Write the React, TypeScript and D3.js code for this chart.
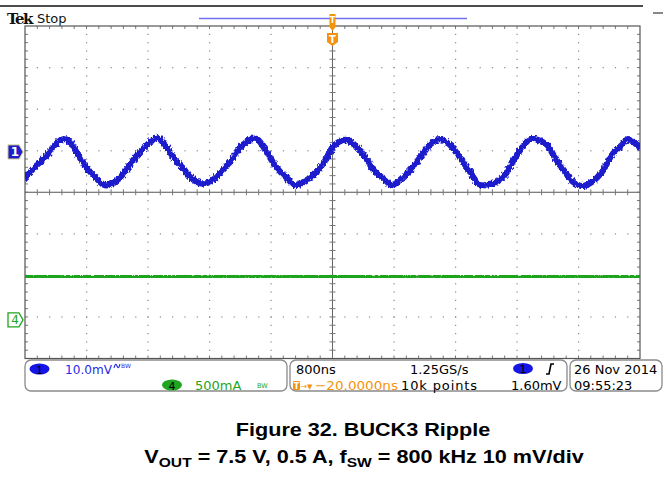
import React from 'react';
import * as d3 from 'd3';

// ---- data ----
const timeNs = [
  -4000, -3870, -3740, -3610, -3506, -3415, -3311, -3194, -3090, -2960, -2829, -2699, -2569, -2439,
  -2283, -2179, -2049, -1945, -1854, -1724, -1594, -1463, -1333, -1203, -1073, -982, -852, -722,
  -592, -488, -332, -202, -72, 33, 163, 293, 423, 553, 683, 774, 904, 1034, 1164, 1294, 1398, 1528,
  1659, 1789, 1919, 2049, 2114, 2244, 2374, 2465, 2569, 2673, 2790, 2894, 3024, 3128, 3246, 3376,
  3506, 3636, 3766, 3844, 3961, 4000,
];
const ch1mV = [
  -6.3, -3.6, -1.4, 1.7, 3.1, 2.4, -0.7, -3.9, -6.0, -8.0, -7.2, -4.8, -1.4, 1.2,
  3.4, 1.7, -1.9, -3.9, -6.0, -7.5, -7.2, -5.1, -2.4, 1.0, 2.9, 3.1, -0.2, -3.9,
  -6.3, -8.0, -6.7, -4.8, -1.4, 1.7, 2.9, 1.7, -1.2, -4.8, -6.7, -8.0, -6.3, -3.9, -0.7, 2.2, 3.1, 1.7,
  -1.4, -4.8, -8.0, -7.7, -7.5, -5.5, -1.4, 1.0, 3.1, 2.9, 1.7, -1.4, -4.8, -7.2, -8.2, -7.2,
  -4.8, -0.7, 1.7, 3.1, 1.7, 1.0,
];
const ch4Time = [-4000, -3000, -2000, -1000, 0, 1000, 2000, 3000, 4000];
const ch4mA = [520, 515, 518, 522, 516, 520, 517, 519, 518];

const hDivs = 10;
const vDivs = 8;
const ch1OffsetDiv = 3.03;
const ch4OffsetDiv = 7.07;

const headerBrand = 'Tek';
const headerState = 'Stop';
const ch1Scale = '10.0mV';
const ch4Scale = '500mA';
const timeScale = '800ns';
const sampleRate = '1.25GS/s';
const triggerPos = '−20.0000ns';
const recordLength = '10k points';
const triggerLevel = '1.60mV';
const dateText = '26 Nov 2014';
const timeText = '09:55:23';
const captionTitle = 'Figure 32. BUCK3 Ripple';

const W = 669;
const H = 482;
const BLUE = '#1e1ecc';
const GREEN = '#1fa51f';
const ORANGE = '#f5930c';
const scopeFont = 'DejaVu Sans, sans-serif';

export default function App() {
  const left = 25, right = 640, top = 26, bottom = 358.5;
  const gx = d3.scaleLinear().domain([0, hDivs]).range([left, right]);
  const gy = d3.scaleLinear().domain([0, vDivs]).range([top, bottom]);
  const xT = d3.scaleLinear().domain([-4000, 4000]).range([left, right]);
  const y1 = d3.scaleLinear().domain([-10, 10]).range([gy(ch1OffsetDiv + 1), gy(ch1OffsetDiv - 1)]);
  const y4 = d3.scaleLinear().domain([-500, 500]).range([gy(ch4OffsetDiv + 1), gy(ch4OffsetDiv - 1)]);

  const line1 = d3.line<number>().x((_, i) => xT(timeNs[i])).y((d) => y1(d)).curve(d3.curveCatmullRom.alpha(0.5));
  const line4 = d3.line<number>().x((_, i) => xT(ch4Time[i])).y((d) => y4(d)).curve(d3.curveCatmullRom.alpha(0.5));

  const dots: any[] = [];
  for (let i = 1; i < hDivs; i++) {
    if (i === hDivs / 2) continue;
    for (let j = 1; j < vDivs * 5; j++) {
      dots.push(<rect key={`v${i}-${j}`} x={gx(i) - 0.5} y={gy(j / 5) - 0.5} width={1.2} height={1.2} fill="#8a8a8a" />);
    }
  }
  for (let k = 1; k < vDivs; k++) {
    if (k === vDivs / 2) continue;
    for (let j = 1; j < hDivs * 5; j++) {
      dots.push(<rect key={`h${k}-${j}`} x={gx(j / 5) - 0.5} y={gy(k) - 0.5} width={1.2} height={1.2} fill="#8a8a8a" />);
    }
  }
  const ticks: any[] = [];
  for (let j = 1; j < hDivs * 5; j++) {
    const x = gx(j / 5);
    ticks.push(<line key={`tt${j}`} x1={x} x2={x} y1={top} y2={top + 3} stroke="#777" />);
    ticks.push(<line key={`tb${j}`} x1={x} x2={x} y1={bottom - 3} y2={bottom} stroke="#777" />);
    ticks.push(<line key={`tc${j}`} x1={x} x2={x} y1={gy(4) - 3} y2={gy(4) + 3} stroke="#777" />);
  }
  for (let j = 1; j < vDivs * 5; j++) {
    const y = gy(j / 5);
    ticks.push(<line key={`tl${j}`} x1={left} x2={left + 3} y1={y} y2={y} stroke="#777" />);
    ticks.push(<line key={`tr${j}`} x1={right - 3} x2={right} y1={y} y2={y} stroke="#777" />);
    ticks.push(<line key={`tm${j}`} x1={gx(5) - 3} x2={gx(5) + 3} y1={y} y2={y} stroke="#777" />);
  }

  const m1y = y1(0);
  const m4y = y4(0);
  const marker = (y: number) => `M8,${y - 7} L19,${y - 7} L23,${y} L19,${y + 7} L8,${y + 7} Z`;
  const tx = gx(5);

  return (
    <svg width={W} height={H} style={{ position: 'absolute', left: 0, top: 0, background: '#fff' }}>
      <defs>
        <clipPath id="plotclip"><rect x={left} y={top} width={right - left} height={bottom - top} /></clipPath>
        <filter id="noisy" x="-5%" y="-30%" width="110%" height="160%">
          <feTurbulence type="fractalNoise" baseFrequency="0.6 0.35" numOctaves={1} seed={4} result="t" />
          <feDisplacementMap in="SourceGraphic" in2="t" scale={5.5} xChannelSelector="R" yChannelSelector="G" />
        </filter>
        <filter id="noisy2" x="-5%" y="-100%" width="110%" height="300%">
          <feTurbulence type="fractalNoise" baseFrequency="0.6 0.4" numOctaves={1} seed={9} result="t" />
          <feDisplacementMap in="SourceGraphic" in2="t" scale={3.5} xChannelSelector="R" yChannelSelector="G" />
        </filter>
      </defs>
      <rect width={W} height={H} fill="#fff" />
      {/* header */}
      <line x1={0} x2={643} y1={6} y2={6} stroke="#111" strokeWidth={1.5} />
      <line x1={653} x2={663} y1={13} y2={13} stroke="#111" strokeWidth={1} />
      <text x={7} y={24} fontFamily="DejaVu Serif, serif" fontWeight="bold" fontSize={15} fill="#111" letterSpacing={-1.5}>{headerBrand}</text>
      <text x={37} y={23} fontFamily={scopeFont} fontSize={13} fill="#111">{headerState}</text>
      <line x1={199} x2={467} y1={18.5} y2={18.5} stroke="#6f6ff0" strokeWidth={1.5} />

      {/* graticule */}
      <g>
        {dots}
        <line x1={tx} x2={tx} y1={top} y2={bottom} stroke="#666" strokeWidth={1} />
        <line x1={left} x2={right} y1={gy(4)} y2={gy(4)} stroke="#555" strokeWidth={1.2} />
        {ticks}
        <rect x={left} y={top} width={right - left} height={bottom - top} fill="none" stroke="#555" strokeWidth={1.2} />
      </g>

      {/* traces */}
      <g clipPath="url(#plotclip)">
        <g filter="url(#noisy2)">
          <path d={line4(ch4mA) || ''} fill="none" stroke={GREEN} strokeWidth={4.2} strokeLinejoin="round" />
        </g>
        <g filter="url(#noisy)">
          <path d={line1(ch1mV) || ''} fill="none" stroke={BLUE} strokeWidth={6.2} strokeLinejoin="round" strokeLinecap="round" />
        </g>
      </g>

      {/* trigger markers */}
      <path d={`M${tx - 3},14 L${tx + 3},14 L${tx + 3},25 L${tx + 4.5},25 L${tx},31 L${tx - 4.5},25 L${tx - 3},25 Z`} fill={ORANGE} />
      <text x={tx} y={23} textAnchor="middle" fontFamily={scopeFont} fontWeight="bold" fontSize={8} fill="#fff">T</text>
      <path d={`M${tx - 5.5},33 L${tx + 5.5},33 L${tx + 5.5},42 L${tx},46 L${tx - 5.5},42 Z`} fill={ORANGE} />
      <text x={tx} y={42.5} textAnchor="middle" fontFamily={scopeFont} fontWeight="bold" fontSize={10} fill="#fff">T</text>

      {/* channel markers */}
      <path d={marker(m1y)} fill={BLUE} stroke="#c9c28a" strokeWidth={1} />
      <text x={15} y={m1y + 4.5} textAnchor="middle" fontFamily={scopeFont} fontWeight="bold" fontSize={12} fill="#fff">1</text>
      <path d={marker(m4y)} fill="#fff" stroke={GREEN} strokeWidth={1.3} />
      <text x={15} y={m4y + 4.5} textAnchor="middle" fontFamily={scopeFont} fontSize={12} fill={GREEN}>4</text>

      {/* status bar */}
      <g fontFamily={scopeFont} fontSize={13}>
        <rect x={25} y={360} width={262} height={31} rx={6} fill="#fff" stroke="#8a8a8a" strokeWidth={1.3} />
        <rect x={290} y={360} width={277} height={31} rx={6} fill="#fff" stroke="#8a8a8a" strokeWidth={1.3} />
        <rect x={570} y={360} width={92} height={31} rx={6} fill="#fff" stroke="#8a8a8a" strokeWidth={1.3} />

        <ellipse cx={39.5} cy={369} rx={10} ry={5.5} fill="#1515e6" />
        <text x={39.5} y={373.5} textAnchor="middle" fontSize={11} fill="#000">1</text>
        <text x={65} y={374} fill="#2a2ae6" textLength={47} lengthAdjust="spacingAndGlyphs">{ch1Scale}</text>
        <path d="M114,368 Q115.5,362 117,366 Q118.5,370 120,364" fill="none" stroke="#2a2ae6" strokeWidth={1.1} />
        <text x={121} y={368} fontSize={6} fill="#2a2ae6">BW</text>

        <ellipse cx={172} cy={385} rx={10} ry={5.5} fill={GREEN} />
        <text x={172} y={389.5} textAnchor="middle" fontSize={11} fill="#000">4</text>
        <text x={195} y={390} fill={GREEN}>{ch4Scale}</text>
        <text x={257} y={388} fontSize={6.5} fill={GREEN}>BW</text>

        <text x={296} y={374} fill="#000">{timeScale}</text>
        <text x={410} y={374} fill="#000">{sampleRate}</text>
        <ellipse cx={523} cy={368.5} rx={10} ry={5.5} fill="#1515e6" />
        <text x={523} y={373} textAnchor="middle" fontSize={11} fill="#000">1</text>
        <path d="M546,374 L549,374 L551,364 L554,364" fill="none" stroke="#000" strokeWidth={1.6} />

        <rect x={293} y={381} width={7} height={9} rx={1} fill={ORANGE} />
        <text x={296.5} y={389} textAnchor="middle" fontSize={8} fontWeight="bold" fill="#fff">T</text>
        <text x={300.5} y={389} fontSize={8} fill={ORANGE}>→</text>
        <text x={307} y={389} fontSize={7} fill={ORANGE}>▼</text>
        <text x={315} y={390} fill={ORANGE} textLength={83} lengthAdjust="spacingAndGlyphs">{triggerPos}</text>
        <text x={401} y={390} fill="#000" textLength={76} lengthAdjust="spacing">{recordLength}</text>
        <text x={511} y={390} fill="#000">{triggerLevel}</text>

        <text x={574} y={374} fill="#000">{dateText}</text>
        <text x={574} y={390} fill="#000">{timeText}</text>
      </g>

      {/* caption */}
      <g fontFamily="Liberation Sans, Arial, sans-serif" fontWeight="bold" fill="#000">
        <g transform="translate(363,436) scale(1.2,1)">
          <text x={0} y={0} textAnchor="middle" fontSize={18}>{captionTitle}</text>
        </g>
        <g transform="translate(364,463) scale(1.2,1)">
          <text x={0} y={0} textAnchor="middle" fontSize={18}>
            V<tspan fontSize={13} dy={4}>OUT</tspan>
            <tspan dy={-4}> = 7.5 V, 0.5 A, f</tspan>
            <tspan fontSize={13} dy={4}>SW</tspan>
            <tspan dy={-4}> = 800 kHz 10 mV/div</tspan>
          </text>
        </g>
      </g>
    </svg>
  );
}
